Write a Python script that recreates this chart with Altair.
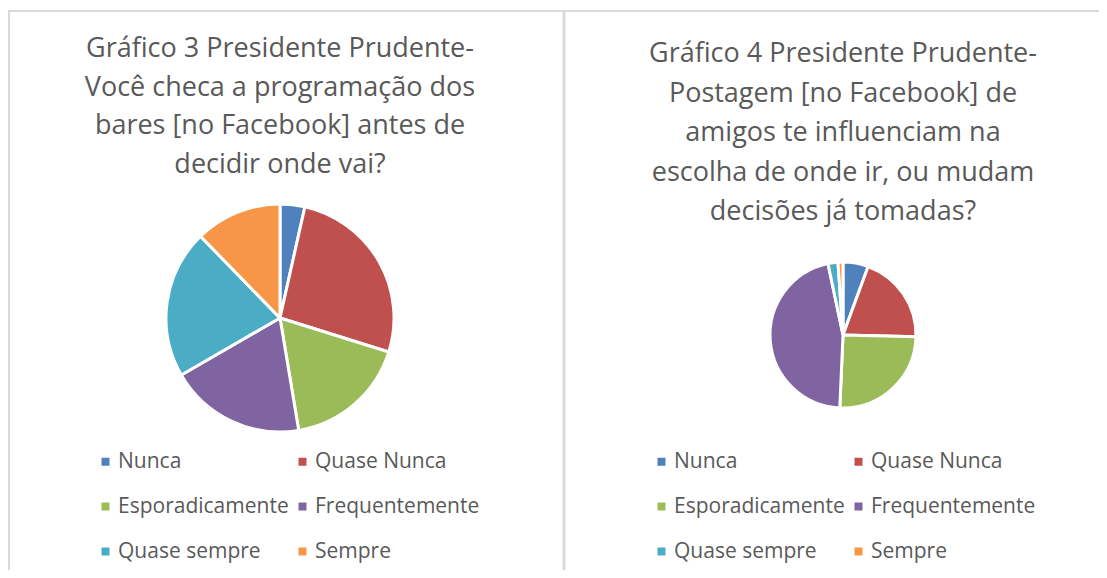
import altair as alt
import pandas as pd

categories = ["Nunca", "Quase Nunca", "Esporadicamente", "Frequentemente", "Quase sempre", "Sempre"]
colors = ["#4F81BD", "#C0504D", "#9BBB59", "#8064A2", "#4BACC6", "#F79646"]
g3_values = [2, 15, 10, 11, 12, 7]
g4_values = [5.6, 19.8, 25.3, 46.0, 2.2, 1.1]

title_g3 = ["Gráfico 3 Presidente Prudente-", "Você checa a programação dos",
            "bares [no Facebook] antes de", "decidir onde vai?"]
title_g4 = ["Gráfico 4 Presidente Prudente-", "Postagem [no Facebook] de",
            "amigos te influenciam na", "escolha de onde ir, ou mudam",
            "decisões já tomadas?"]

FONT = "Open Sans"
TXT = "#595959"
BORDER = "#d9d9d9"

df3 = pd.DataFrame({"cat": categories, "val": g3_values, "ord": list(range(len(categories)))})
df4 = pd.DataFrame({"cat": categories, "val": g4_values, "ord": list(range(len(categories)))})


def pie(df, cx, cy, r, lx, ly):
    return alt.Chart(df).mark_arc(radius=r, stroke="white", strokeWidth=3).encode(
        theta=alt.Theta("val:Q", stack=True),
        color=alt.Color(
            "cat:N",
            scale=alt.Scale(domain=categories, range=colors),
            legend=alt.Legend(
                orient="none", legendX=lx, legendY=ly, columns=2, direction="horizontal",
                title=None, symbolType="square", symbolSize=64, symbolStrokeWidth=0,
                labelFont=FONT, labelFontSize=21, labelColor=TXT, labelLimit=400,
                labelOffset=2, rowPadding=23, columnPadding=3, padding=0,
            ),
        ),
        order=alt.Order("ord:Q"),
        x=alt.value(cx),
        y=alt.value(cy),
    )


def title(lines, cx, y, lh):
    return alt.Chart(pd.DataFrame({"t": ["\n".join(lines)]})).mark_text(
        font=FONT, fontSize=27, color=TXT, lineBreak="\n", lineHeight=lh,
        align="center", baseline="alphabetic",
    ).encode(text="t:N", x=alt.value(cx), y=alt.value(y))


top_rule = alt.Chart().mark_rule(color=BORDER, strokeWidth=2).encode(
    x=alt.value(0), x2=alt.value(1091), y=alt.value(3))
left_rule = alt.Chart().mark_rule(color=BORDER, strokeWidth=2).encode(
    x=alt.value(1), y=alt.value(3), y2=alt.value(562))
mid_rule = alt.Chart().mark_rule(color=BORDER, strokeWidth=3).encode(
    x=alt.value(556), y=alt.value(3), y2=alt.value(562))

chart = alt.layer(
    top_rule, left_rule, mid_rule,
    title(title_g3, 272, 49, 38.5),
    title(title_g4, 835, 54, 39.5),
    pie(df3, 272, 310, 114, 87, 443),
    pie(df4, 835, 327, 73, 643, 443),
).resolve_scale(color="independent", theta="independent").resolve_legend(color="independent").properties(
    width=1091, height=562, autosize=alt.AutoSizeParams(type="none"), padding=0,
).configure_view(stroke=None)

chart.save("out.html", embed_options={"renderer": "svg", "actions": False})
